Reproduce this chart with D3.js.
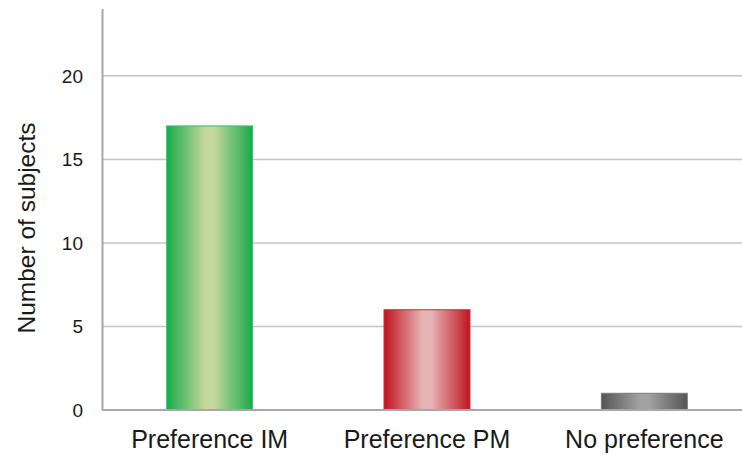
<!DOCTYPE html>
<html><head><meta charset="utf-8">
<script src="https://cdn.jsdelivr.net/npm/d3@7/dist/d3.min.js"></script>
<style>body{margin:0;background:#fff}svg{display:block}text{font-family:"Liberation Sans",Arial,sans-serif;fill:#1a1a1a}</style>
</head><body><svg id="c" width="742" height="455"></svg>
<script>
const categories = ["Preference IM", "Preference PM", "No preference"];
const values = [17, 6, 1];
const yTicks = [0, 5, 10, 15, 20];
const yLabel = "Number of subjects";
const palettes = [
  {edge:"#18aa4c", mid:"#c6d79c", stroke:"#2fbf5e"},
  {edge:"#c0141e", mid:"#e6b3b5", stroke:"#cc2a30"},
  {edge:"#555555", mid:"#a2a2a2", stroke:"#7a7a7a"}
];

const svg = d3.select("#c");
const x = d3.scaleBand().domain(categories).range([101, 753]).paddingInner(0.6).paddingOuter(0.3);
const y = d3.scaleLinear().domain([0, 24]).range([410, 9]);

const defs = svg.append("defs");
palettes.forEach((p,i)=>{
  const g = defs.append("linearGradient").attr("id","g"+i).attr("x1","0").attr("x2","1").attr("y1","0").attr("y2","0");
  g.append("stop").attr("offset","0").attr("stop-color",p.edge);
  g.append("stop").attr("offset","0.45").attr("stop-color",p.mid);
  g.append("stop").attr("offset","0.55").attr("stop-color",p.mid);
  g.append("stop").attr("offset","1").attr("stop-color",p.edge);
});

// gridlines
svg.append("g").selectAll("line").data(yTicks.filter(d=>d>0)).join("line")
  .attr("x1",102).attr("x2",742).attr("y1",d=>y(d)).attr("y2",d=>y(d))
  .attr("stroke","#c4c4c4").attr("stroke-width",1.5);

// y tick labels
svg.append("g").selectAll("text").data(yTicks).join("text")
  .attr("x",83).attr("y",d=>y(d)).attr("dy","0.36em").attr("text-anchor","end")
  .style("font-size","19px").text(d=>d);

// bars
svg.append("g").selectAll("rect").data(values).join("rect")
  .attr("x",(d,i)=>x(categories[i])+0.5).attr("width",x.bandwidth()-1)
  .attr("y",d=>y(d)).attr("height",d=>y(0)-y(d))
  .attr("fill",(d,i)=>`url(#g${i})`).attr("stroke",(d,i)=>palettes[i].stroke).attr("stroke-width",1);

// axes lines
svg.append("line").attr("x1",102).attr("x2",742).attr("y1",y(0)).attr("y2",y(0)).attr("stroke","#a8a8a8").attr("stroke-width",2);
svg.append("line").attr("x1",102.5).attr("x2",102.5).attr("y1",y(24)).attr("y2",y(0)).attr("stroke","#a8a8a8").attr("stroke-width",2);

// x labels
svg.append("g").selectAll("text").data(categories).join("text")
  .attr("x",d=>x(d)+x.bandwidth()/2).attr("y",448).attr("text-anchor","middle")
  .style("font-size","25px").text(d=>d);

// y label
svg.append("text").attr("transform","translate(35,228) rotate(-90)").attr("text-anchor","middle")
  .style("font-size","24.5px").text(yLabel);
</script></body></html>
